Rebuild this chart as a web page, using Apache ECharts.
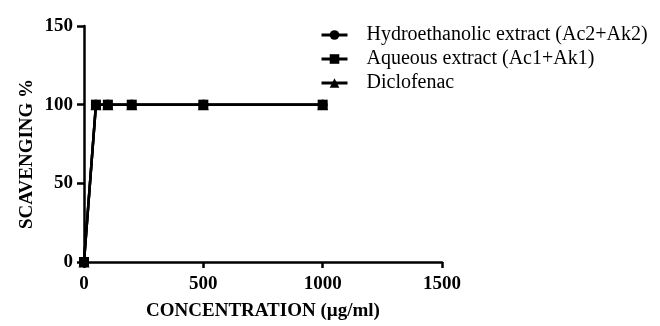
<!DOCTYPE html>
<html>
<head>
<meta charset="utf-8">
<script src="https://cdn.jsdelivr.net/npm/echarts@6/dist/echarts.min.js"></script>
<style>
html,body{margin:0;padding:0;background:#fff;}
#chart{width:660px;height:326px;}
</style>
</head>
<body>
<div id="chart"></div>
<script>
const concentrations = [0, 50, 100, 200, 500, 1000];
const hydroethanolic = [0, 100, 100, 100, 100, 100];
const aqueous = [0, 100, 100, 100, 100, 100];
const diclofenac = [0, 100, 100, 100, 100, 100];
const seriesNames = ['Hydroethanolic extract (Ac2+Ak2)', 'Aqueous extract (Ac1+Ak1)', 'Diclofenac'];
const xTitle = 'CONCENTRATION (µg/ml)';
const yTitle = 'SCAVENGING %';

const pairs = vals => concentrations.map((c, i) => [c, vals[i]]);
const font = '"Liberation Serif", "Times New Roman", serif';

function mkSeries(name, vals, symbol, size, z) {
  return {
    name: name, type: 'line', data: pairs(vals), symbol: symbol, symbolSize: size,
    clip: false, z: z,
    lineStyle: {color: '#000', width: 2.5},
    itemStyle: {color: '#000'}
  };
}

const chart = echarts.init(document.getElementById('chart'));
chart.setOption({
  animation: false,
  backgroundColor: '#fff',
  grid: {left: 84, right: 218, top: 26, bottom: 64, containLabel: false},
  legend: {
    orient: 'vertical', left: 315, top: 20, itemGap: 4,
    itemWidth: 26, itemHeight: 12,
    lineStyle: {width: 3, color: '#000'},
    itemStyle: {color: '#000'},
    textStyle: {fontFamily: font, fontSize: 20, color: '#000', padding: [0, 0, 0, 14]},
    data: seriesNames
  },
  xAxis: {
    type: 'value', min: 0, max: 1500, interval: 500,
    name: xTitle, nameLocation: 'middle', nameGap: 40,
    nameTextStyle: {fontFamily: font, fontSize: 19, fontWeight: 'bold', color: '#000'},
    axisLine: {show: true, lineStyle: {color: '#000', width: 2.5}},
    axisTick: {show: true, length: 6, lineStyle: {color: '#000', width: 2.5}},
    axisLabel: {fontFamily: font, fontSize: 19, fontWeight: 'bold', color: '#000', margin: 13,
      formatter: v => String(v)},
    splitLine: {show: false}
  },
  yAxis: {
    type: 'value', min: 0, max: 150, interval: 50,
    name: yTitle, nameLocation: 'middle', nameGap: 47, nameRotate: 90,
    nameMoveOverlap: false,
    nameTextStyle: {fontFamily: font, fontSize: 19, fontWeight: 'bold', color: '#000', padding: [0, 20, 0, 0]},
    axisLine: {show: true, lineStyle: {color: '#000', width: 2.5}},
    axisTick: {show: true, length: 7, lineStyle: {color: '#000', width: 2.5}},
    axisLabel: {fontFamily: font, fontSize: 19, fontWeight: 'bold', color: '#000', margin: 11,
      formatter: v => String(v)},
    splitLine: {show: false}
  },
  series: [
    mkSeries(seriesNames[2], diclofenac, 'triangle', 11, 2),
    mkSeries(seriesNames[0], hydroethanolic, 'circle', 10, 3),
    mkSeries(seriesNames[1], aqueous, 'rect', 10, 4)
  ]
});
</script>
</body>
</html>
